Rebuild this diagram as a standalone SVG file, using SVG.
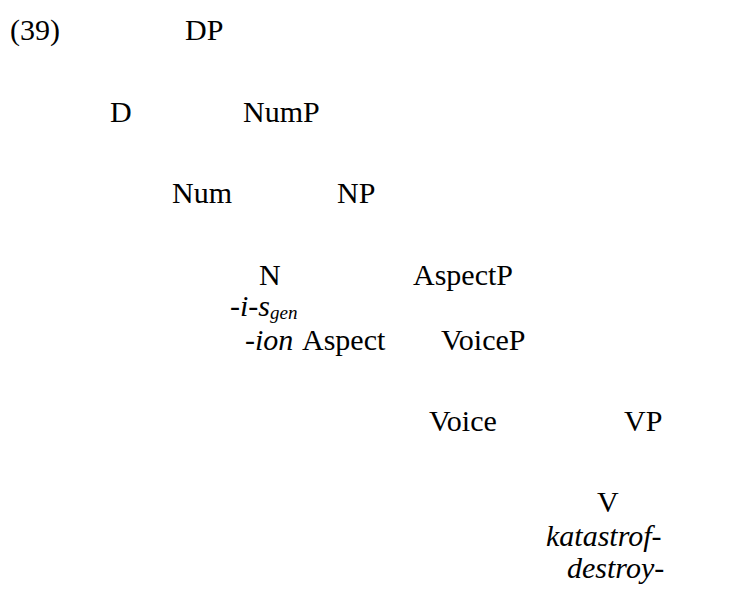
<svg xmlns="http://www.w3.org/2000/svg" width="734" height="601" viewBox="0 0 734 601">
<rect width="734" height="601" fill="#fff"/>
<g id="connectors"></g>
<text id="ex" x="10" y="40" font-family="Liberation Serif" font-size="30">(39)</text>
<g id="n-DP"><text x="185" y="40" font-family="Liberation Serif" font-size="30">DP</text></g>
<g id="n-D"><text x="110" y="122" font-family="Liberation Serif" font-size="30">D</text></g>
<g id="n-NumP"><text x="243" y="122" font-family="Liberation Serif" font-size="30">NumP</text></g>
<g id="n-Num"><text x="172" y="203" font-family="Liberation Serif" font-size="30">Num</text></g>
<g id="n-NP"><text x="337" y="203" font-family="Liberation Serif" font-size="30">NP</text></g>
<g id="n-N"><text x="259" y="285" font-family="Liberation Serif" font-size="30">N</text><text x="230" y="316" font-family="Liberation Serif" font-size="30" font-style="italic">-i-s<tspan font-size="19" dy="3">gen</tspan></text><text x="245" y="350" font-family="Liberation Serif" font-size="30" font-style="italic">-ion</text></g>
<g id="n-AspectP"><text x="413" y="285" font-family="Liberation Serif" font-size="30">AspectP</text></g>
<g id="n-Aspect"><text x="302" y="350" font-family="Liberation Serif" font-size="30">Aspect</text></g>
<g id="n-VoiceP"><text x="441" y="350" font-family="Liberation Serif" font-size="30">VoiceP</text></g>
<g id="n-Voice"><text x="429" y="431" font-family="Liberation Serif" font-size="30">Voice</text></g>
<g id="n-VP"><text x="624" y="431" font-family="Liberation Serif" font-size="30">VP</text></g>
<g id="n-V"><text x="597" y="512" font-family="Liberation Serif" font-size="30">V</text><text x="546" y="546" font-family="Liberation Serif" font-size="30" font-style="italic">katastrof-</text><text x="567" y="578" font-family="Liberation Serif" font-size="30" font-style="italic">destroy-</text></g>
</svg>
